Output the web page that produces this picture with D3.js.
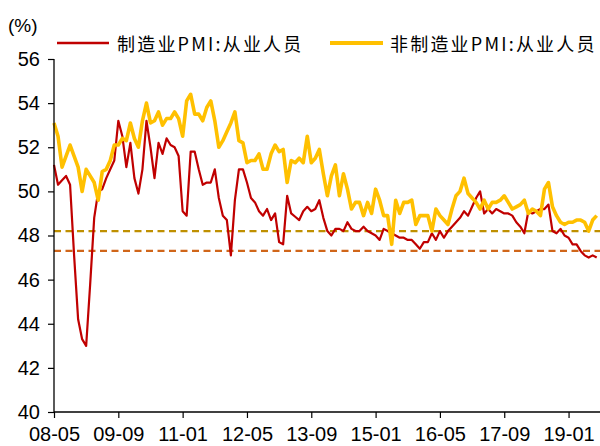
<!DOCTYPE html>
<html>
<head>
<meta charset="utf-8">
<script src="https://cdn.jsdelivr.net/npm/d3@7"></script>
<style>
  html, body { margin: 0; padding: 0; background: #fff; }
  svg { display: block; }
  .tick text { font-family: "Liberation Sans", Arial, sans-serif; font-size: 20px; fill: #000; }
</style>
</head>
<body>
<svg id="chart" width="600" height="446"></svg>
<script>
// Monthly employment sub-index, May 2008 onward
const startMonth = new Date(2008, 4, 1);
const tickLabels = ["08-05", "09-09", "11-01", "12-05", "13-09", "15-01", "16-05", "17-09", "19-01"];
const yTicks = [40, 42, 44, 46, 48, 50, 52, 54, 56];

const seriesNames = ["制造业PMI:从业人员", "非制造业PMI:从业人员"];

const manufacturing = [
  51.2, 50.3, 50.5, 50.7, 50.3, 47.1, 44.2, 43.3, 43.0, 45.8,
  48.8, 50.0, 50.1, 50.6, 51.0, 51.4, 53.2, 52.5, 51.1, 52.2,
  50.6, 49.9, 51.0, 53.2, 52.0, 50.6, 52.2, 51.7, 52.4, 52.1,
  52.0, 51.6, 49.1, 48.9, 51.8, 51.8, 51.0, 50.3, 50.4, 50.4,
  51.0, 49.7, 48.9, 48.7, 47.1, 49.6, 51.0, 51.0, 50.4, 49.7,
  49.5, 49.1, 48.9, 49.2, 48.7, 49.0, 47.7, 47.6, 49.8, 49.0,
  48.85, 48.7, 49.1, 49.3, 49.1, 49.2, 49.6, 48.8, 48.2, 48.0,
  48.3, 48.3, 48.2, 48.6, 48.3, 48.2, 48.2, 48.4, 48.2, 48.1,
  48.0, 47.8, 48.3, 48.2, 48.1, 48.0, 47.9, 47.9, 47.8, 47.8,
  47.6, 47.4, 47.7, 47.7, 48.1, 47.8, 48.2, 47.9, 48.2, 48.4,
  48.6, 48.8, 49.1, 48.9, 49.3, 49.7, 50.0, 49.0, 49.2, 49.0,
  49.2, 49.1, 49.0, 49.0, 48.9, 48.6, 48.4, 48.1, 49.1, 49.0,
  49.1, 49.2, 49.2, 49.4, 48.2, 48.1, 48.3, 48.0, 47.9, 47.6,
  47.6, 47.3, 47.1, 47.0, 47.1, 47.0
];

const nonManufacturing = [
  53.1, 52.5, 51.1, 51.6, 52.1, 51.6, 51.1, 50.0, 51.0, 50.7,
  50.4, 49.6, 50.9, 51.0, 51.4, 52.1, 52.1, 52.4, 52.3, 53.1,
  52.4, 52.0, 53.2, 54.0, 53.1, 53.2, 53.6, 53.0, 53.3, 53.3,
  53.6, 53.3, 52.5, 54.1, 54.4, 53.5, 53.5, 53.2, 53.8, 54.1,
  53.2, 52.0, 52.3, 52.7, 53.1, 53.6, 52.3, 52.2, 51.3, 51.4,
  51.4, 51.7, 51.0, 51.0, 51.7, 52.1, 51.8, 51.9, 50.4, 51.4,
  51.3, 51.5, 51.3, 52.5, 51.3, 51.5, 51.9, 50.8, 49.8, 50.7,
  51.2, 49.8, 50.8, 50.1, 49.2, 49.5, 49.5, 48.9, 49.5, 49.0,
  50.1, 49.6, 48.9, 48.9, 47.6, 49.6, 49.0, 49.5, 49.5, 49.6,
  48.5, 48.9, 48.9, 48.9, 48.2, 49.2, 48.9, 48.7, 48.5, 49.2,
  49.8, 50.0, 50.6, 49.9, 49.7, 49.5, 49.2, 49.6, 49.2, 49.5,
  49.5, 49.6, 49.8, 49.5, 49.2, 49.3, 49.4, 49.6, 49.0, 49.2,
  49.1, 48.9, 50.1, 50.4, 49.3, 48.9, 48.6, 48.5, 48.6, 48.6,
  48.7, 48.7, 48.6, 48.2, 48.7, 48.9
];

// Horizontal reference levels
const refLevels = [48.2, 47.3];

const colors = ["#C00000", "#FFC000"];
const refColors = ["#BF9000", "#D0661A"];

const months = d3.timeMonth.range(startMonth, d3.timeMonth.offset(startMonth, manufacturing.length));
const fmt = d3.timeFormat("%y-%m");

const svg = d3.select("#chart");
const plotLeft = 54, plotRight = 596.7, plotTop = 59, plotBottom = 412;

const x = d3.scaleLinear().domain([0, months.length - 1]).range([plotLeft, plotRight]);
const y = d3.scaleLinear().domain([40, 56]).range([plotBottom, plotTop]);

// Reference dashed lines
svg.append("g").selectAll("line").data(refLevels).join("line")
  .attr("x1", plotLeft).attr("x2", 600)
  .attr("y1", d => y(d)).attr("y2", d => y(d))
  .attr("stroke", (d, i) => refColors[i])
  .attr("stroke-width", 2.3)
  .attr("stroke-dasharray", "7,4.5");

// Series lines
const line = vals => d3.line().x((d, i) => x(i)).y(d => y(d))(vals);
svg.append("path").attr("d", line(manufacturing))
  .attr("fill", "none").attr("stroke", colors[0]).attr("stroke-width", 2.2)
  .attr("stroke-linejoin", "round");
svg.append("path").attr("d", line(nonManufacturing))
  .attr("fill", "none").attr("stroke", colors[1]).attr("stroke-width", 3.6)
  .attr("stroke-linejoin", "round");

// Y axis
const yAxis = svg.append("g").attr("transform", `translate(${plotLeft},0)`)
  .call(d3.axisLeft(y).tickValues(yTicks).tickSize(6).tickSizeOuter(0).tickPadding(8));
yAxis.select(".domain").remove();
yAxis.selectAll(".tick line").attr("stroke", "#000").attr("stroke-width", 1.2);
svg.append("line").attr("x1", plotLeft).attr("x2", plotLeft).attr("y1", plotTop).attr("y2", plotBottom)
  .attr("stroke", "#000").attr("stroke-width", 1.3);

// X axis: one tick every 16 months
const tickIdx = months.map((m, i) => i).filter(i => tickLabels.includes(fmt(months[i])));
const xAxis = svg.append("g").attr("transform", `translate(0,${plotBottom})`)
  .call(d3.axisBottom(x).tickValues(tickIdx).tickFormat(i => fmt(months[i]))
    .tickSize(6).tickSizeOuter(0).tickPadding(9));
xAxis.select(".domain").remove();
xAxis.selectAll(".tick line").attr("stroke", "#000").attr("stroke-width", 1.2);
svg.append("line").attr("x1", plotLeft).attr("x2", 600).attr("y1", plotBottom).attr("y2", plotBottom)
  .attr("stroke", "#000").attr("stroke-width", 1.3);

// Unit label
svg.append("text").attr("x", 8).attr("y", 25).attr("dominant-baseline", "central")
  .style("font-family", "Liberation Sans, Arial, sans-serif").style("font-size", "19px")
  .text("(%)");

// Legend
const legendItems = [
  { x1: 57, x2: 109, tx: 117, w: 2.6 },
  { x1: 330, x2: 383, tx: 390, w: 3.8 }
];
legendItems.forEach((it, i) => {
  svg.append("line").attr("x1", it.x1).attr("x2", it.x2).attr("y1", 43).attr("y2", 43)
    .attr("stroke", colors[i]).attr("stroke-width", it.w);
  svg.append("text").attr("x", it.tx).attr("y", 43).attr("dominant-baseline", "central")
    .style("font-family", "Noto Sans CJK SC, sans-serif").style("font-size", "18px")
    .style("letter-spacing", "2.2px")
    .text(seriesNames[i]);
});
</script>
</body>
</html>
